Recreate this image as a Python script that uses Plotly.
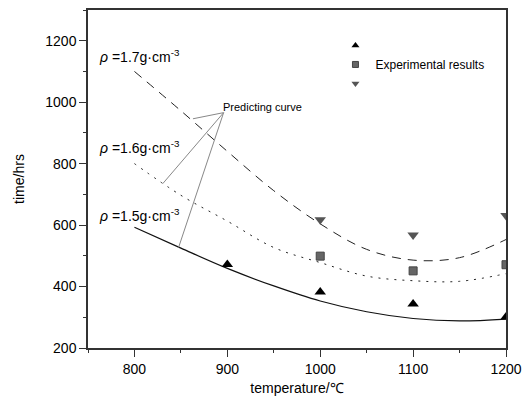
import plotly.graph_objects as go

# Predicting curves
curve_temp = [800, 850, 900, 950, 1000, 1050, 1100, 1150, 1200]
curve_15 = [593, 525, 459, 402, 353, 318, 296, 288, 294]
curve_16 = [800, 697, 613, 527, 478, 434, 419, 417, 442]
curve_17 = [1100, 972, 840, 712, 604, 521, 486, 494, 553]

# Experimental results
exp_temp_15 = [900, 1000, 1100, 1200]
exp_15 = [472, 382, 343, 301]
exp_temp_16 = [1000, 1100, 1200]
exp_16 = [499, 451, 471]
exp_temp_17 = [1000, 1100, 1200]
exp_17 = [617, 568, 631]

labels = ["<i>ρ</i> =1.7g·cm<sup>-3</sup>", "<i>ρ</i> =1.6g·cm<sup>-3</sup>", "<i>ρ</i> =1.5g·cm<sup>-3</sup>"]
label_pos = [(760, 1151), (760, 853), (760, 632)]

FONT = "Liberation Sans, Arial, sans-serif"

fig = go.Figure()
fig.add_trace(go.Scatter(x=curve_temp, y=curve_17, mode="lines", line=dict(color="#222", width=1, dash="9px,7px", shape="spline"), showlegend=False))
fig.add_trace(go.Scatter(x=curve_temp, y=curve_16, mode="lines", line=dict(color="#222", width=1, dash="2px,6px", shape="spline"), showlegend=False))
fig.add_trace(go.Scatter(x=curve_temp, y=curve_15, mode="lines", line=dict(color="#111", width=1.2, shape="spline"), showlegend=False))

fig.add_trace(go.Scatter(x=exp_temp_15, y=exp_15, mode="markers", marker=dict(symbol="triangle-up", size=10, color="#000"), showlegend=False))
fig.add_trace(go.Scatter(x=exp_temp_16, y=exp_16, mode="markers", marker=dict(symbol="square", size=8, color="#666", line=dict(color="#444", width=1)), showlegend=False))
fig.add_trace(go.Scatter(x=exp_temp_17, y=exp_17, mode="markers", marker=dict(symbol="triangle-down", size=10, color="#555"), showlegend=False))

# legend-only entries
fig.add_trace(go.Scatter(x=[None], y=[None], mode="markers", name=" ", marker=dict(symbol="triangle-up", size=7, color="#000")))
fig.add_trace(go.Scatter(x=[None], y=[None], mode="markers", name="Experimental results", marker=dict(symbol="square", size=6, color="#666", line=dict(color="#444", width=1))))
fig.add_trace(go.Scatter(x=[None], y=[None], mode="markers", name=" ", marker=dict(symbol="triangle-down", size=7, color="#555")))

for t, (x, y) in zip(labels, label_pos):
    fig.add_annotation(x=x, y=y, text=t, showarrow=False, xanchor="left", yanchor="middle",
                       font=dict(family=FONT, size=14, color="#000"))

fig.add_annotation(x=893, y=983, text="Predicting curve", showarrow=False, xanchor="left", yanchor="middle",
                   font=dict(family=FONT, size=11, color="#000"))
apex = (896, 966)
for ex, ey in [(863, 946), (830.5, 735), (847.5, 527)]:
    fig.add_shape(type="line", x0=apex[0], y0=apex[1], x1=ex, y1=ey, line=dict(color="#888", width=1))

fig.update_layout(
    width=522, height=404,
    margin=dict(l=88, r=16, t=10, b=56),
    paper_bgcolor="white", plot_bgcolor="white",
    font=dict(family=FONT, size=14, color="#000"),
    legend=dict(x=0.592, y=0.938, xanchor="left", yanchor="top", bgcolor="rgba(0,0,0,0)",
                font=dict(size=12), tracegroupgap=0, itemwidth=30),
    xaxis=dict(range=[750, 1200], tickvals=[800, 900, 1000, 1100, 1200], showgrid=False, zeroline=False,
               showline=True, linecolor="#333", linewidth=1.5, mirror=True, ticks="outside", ticklen=7,
               tickcolor="#333", tickwidth=1.2, automargin=False,
               minor=dict(dtick=50, tick0=750, ticks="outside", ticklen=3, tickcolor="#333"),
               title=dict(text="temperature/℃", standoff=8, font=dict(size=14))),
    yaxis=dict(range=[200, 1300], tickvals=[200, 400, 600, 800, 1000, 1200], showgrid=False, zeroline=False,
               showline=True, linecolor="#333", linewidth=1.5, mirror=True, ticks="outside", ticklen=7,
               tickcolor="#333", tickwidth=1.2, automargin=False,
               minor=dict(dtick=100, tick0=200, ticks="outside", ticklen=3, tickcolor="#333"),
               title=dict(text="time/hrs", standoff=17, font=dict(size=14))),
)

fig.write_html("out.html", config={"displayModeBar": False},
               post_script="document.body.style.margin='0px';")
